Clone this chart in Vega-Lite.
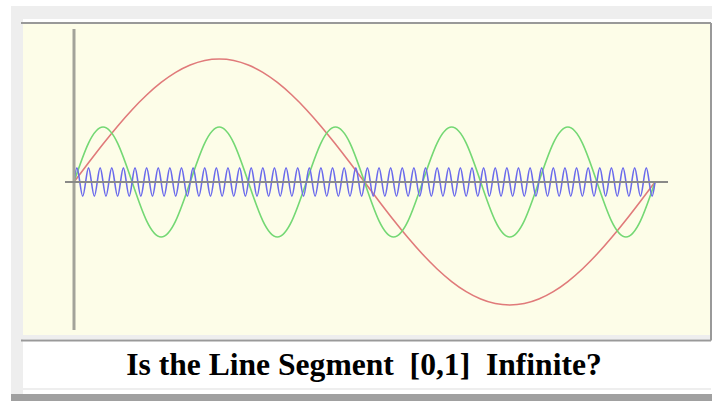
{
  "$schema": "https://vega.github.io/schema/vega-lite/v6.json",
  "width": 688,
  "height": 311,
  "autosize": {"type": "none"},
  "padding": {"left": 23, "top": 24, "right": 1, "bottom": 66},
  "background": "white",
  "view": {"fill": "#fdfde8", "stroke": null},
  "layer": [
    {
      "data": {"values": [{}]},
      "mark": {"type": "rect", "color": "#eeeeee"},
      "encoding": {
        "x": {"datum": -0.10843, "type": "quantitative", "scale": {"domain": [-0.08778, 1.09639], "nice": false, "zero": false}, "axis": null},
        "x2": {"datum": 1.09811},
        "y": {"datum": 1.43089, "type": "quantitative", "scale": {"domain": [-1.2439, 1.28455], "nice": false, "zero": false}, "axis": null},
        "y2": {"datum": 1.3252}
      }
    },
    {
      "data": {"values": [{}]},
      "mark": {"type": "rect", "color": "#eeeeee"},
      "encoding": {
        "x": {"datum": -0.10843, "type": "quantitative", "scale": {"domain": [-0.08778, 1.09639], "nice": false, "zero": false}, "axis": null},
        "x2": {"datum": -0.08778},
        "y": {"datum": 1.43089, "type": "quantitative", "scale": {"domain": [-1.2439, 1.28455], "nice": false, "zero": false}, "axis": null},
        "y2": {"datum": -1.72358}
      }
    },
    {
      "data": {"values": [{}]},
      "mark": {"type": "rect", "color": "#eeeeee"},
      "encoding": {
        "x": {"datum": -0.08778, "type": "quantitative", "scale": {"domain": [-0.08778, 1.09639], "nice": false, "zero": false}, "axis": null},
        "x2": {"datum": 1.09639},
        "y": {"datum": -1.2439, "type": "quantitative", "scale": {"domain": [-1.2439, 1.28455], "nice": false, "zero": false}, "axis": null},
        "y2": {"datum": -1.27642}
      }
    },
    {
      "data": {"values": [{}]},
      "mark": {"type": "rect", "color": "#eeeeee"},
      "encoding": {
        "x": {"datum": -0.08778, "type": "quantitative", "scale": {"domain": [-0.08778, 1.09639], "nice": false, "zero": false}, "axis": null},
        "x2": {"datum": 1.09639},
        "y": {"datum": -1.6748, "type": "quantitative", "scale": {"domain": [-1.2439, 1.28455], "nice": false, "zero": false}, "axis": null},
        "y2": {"datum": -1.69106}
      }
    },
    {
      "data": {"values": [{}]},
      "mark": {"type": "rect", "color": "#a0a0a0"},
      "encoding": {
        "x": {"datum": -0.10843, "type": "quantitative", "scale": {"domain": [-0.08778, 1.09639], "nice": false, "zero": false}, "axis": null},
        "x2": {"datum": 1.09811},
        "y": {"datum": -1.72358, "type": "quantitative", "scale": {"domain": [-1.2439, 1.28455], "nice": false, "zero": false}, "axis": null},
        "y2": {"datum": -1.78049}
      }
    },
    {
      "data": {"values": [{}]},
      "mark": {"type": "rule", "color": "#999999", "strokeWidth": 2},
      "encoding": {
        "x": {"datum": -0.09122, "type": "quantitative", "scale": {"domain": [-0.08778, 1.09639], "nice": false, "zero": false}, "axis": null},
        "x2": {"datum": 1.09639},
        "y": {"datum": 1.29268, "type": "quantitative", "scale": {"domain": [-1.2439, 1.28455], "nice": false, "zero": false}, "axis": null}
      }
    },
    {
      "data": {"values": [{}]},
      "mark": {"type": "rule", "color": "#999999", "strokeWidth": 2},
      "encoding": {
        "x": {"datum": 1.09639, "type": "quantitative", "scale": {"domain": [-0.08778, 1.09639], "nice": false, "zero": false}, "axis": null},
        "y": {"datum": 1.29268, "type": "quantitative", "scale": {"domain": [-1.2439, 1.28455], "nice": false, "zero": false}, "axis": null},
        "y2": {"datum": -1.28862}
      }
    },
    {
      "data": {"values": [{}]},
      "mark": {"type": "rule", "color": "#999999", "strokeWidth": 2},
      "encoding": {
        "x": {"datum": -0.09122, "type": "quantitative", "scale": {"domain": [-0.08778, 1.09639], "nice": false, "zero": false}, "axis": null},
        "x2": {"datum": 1.09639},
        "y": {"datum": -1.28862, "type": "quantitative", "scale": {"domain": [-1.2439, 1.28455], "nice": false, "zero": false}, "axis": null}
      }
    },
    {
      "data": {"values": [{"title": "Is the Line Segment \u00a0[0,1] \u00a0Infinite?"}]},
      "mark": {"type": "text", "font": "Liberation Serif", "fontSize": 31.6, "fontWeight": "bold", "color": "#000000", "align": "center", "baseline": "alphabetic"},
      "encoding": {
        "x": {"datum": 0.4991, "type": "quantitative", "scale": {"domain": [-0.08778, 1.09639], "nice": false, "zero": false}, "axis": null},
        "y": {"datum": -1.56911, "type": "quantitative", "scale": {"domain": [-1.2439, 1.28455], "nice": false, "zero": false}, "axis": null},
        "text": {"field": "title"}
      }
    },
    {
      "data": {"values": [
        {"s":"red","t":0,"y":0},{"s":"red","t":0.025,"y":0.156},{"s":"red","t":0.05,"y":0.309},{"s":"red","t":0.075,"y":0.454},{"s":"red","t":0.1,"y":0.588},{"s":"red","t":0.125,"y":0.707},{"s":"red","t":0.15,"y":0.809},{"s":"red","t":0.175,"y":0.891},{"s":"red","t":0.2,"y":0.951},{"s":"red","t":0.225,"y":0.988},{"s":"red","t":0.25,"y":1},{"s":"red","t":0.275,"y":0.988},{"s":"red","t":0.3,"y":0.951},{"s":"red","t":0.325,"y":0.891},{"s":"red","t":0.35,"y":0.809},{"s":"red","t":0.375,"y":0.707},{"s":"red","t":0.4,"y":0.588},{"s":"red","t":0.425,"y":0.454},{"s":"red","t":0.45,"y":0.309},{"s":"red","t":0.475,"y":0.156},{"s":"red","t":0.5,"y":0},{"s":"red","t":0.525,"y":-0.156},{"s":"red","t":0.55,"y":-0.309},{"s":"red","t":0.575,"y":-0.454},{"s":"red","t":0.6,"y":-0.588},{"s":"red","t":0.625,"y":-0.707},{"s":"red","t":0.65,"y":-0.809},{"s":"red","t":0.675,"y":-0.891},{"s":"red","t":0.7,"y":-0.951},{"s":"red","t":0.725,"y":-0.988},{"s":"red","t":0.75,"y":-1},{"s":"red","t":0.775,"y":-0.988},{"s":"red","t":0.8,"y":-0.951},{"s":"red","t":0.825,"y":-0.891},{"s":"red","t":0.85,"y":-0.809},{"s":"red","t":0.875,"y":-0.707},{"s":"red","t":0.9,"y":-0.588},{"s":"red","t":0.925,"y":-0.454},{"s":"red","t":0.95,"y":-0.309},{"s":"red","t":0.975,"y":-0.156},{"s":"red","t":1,"y":0},
        {"s":"green","t":0,"y":0},{"s":"green","t":0.025,"y":0.316},{"s":"green","t":0.05,"y":0.447},{"s":"green","t":0.075,"y":0.316},{"s":"green","t":0.1,"y":0},{"s":"green","t":0.125,"y":-0.316},{"s":"green","t":0.15,"y":-0.447},{"s":"green","t":0.175,"y":-0.316},{"s":"green","t":0.2,"y":0},{"s":"green","t":0.225,"y":0.316},{"s":"green","t":0.25,"y":0.447},{"s":"green","t":0.275,"y":0.316},{"s":"green","t":0.3,"y":0},{"s":"green","t":0.325,"y":-0.316},{"s":"green","t":0.35,"y":-0.447},{"s":"green","t":0.375,"y":-0.316},{"s":"green","t":0.4,"y":0},{"s":"green","t":0.425,"y":0.316},{"s":"green","t":0.45,"y":0.447},{"s":"green","t":0.475,"y":0.316},{"s":"green","t":0.5,"y":0},{"s":"green","t":0.525,"y":-0.316},{"s":"green","t":0.55,"y":-0.447},{"s":"green","t":0.575,"y":-0.316},{"s":"green","t":0.6,"y":0},{"s":"green","t":0.625,"y":0.316},{"s":"green","t":0.65,"y":0.447},{"s":"green","t":0.675,"y":0.316},{"s":"green","t":0.7,"y":0},{"s":"green","t":0.725,"y":-0.316},{"s":"green","t":0.75,"y":-0.447},{"s":"green","t":0.775,"y":-0.316},{"s":"green","t":0.8,"y":0},{"s":"green","t":0.825,"y":0.316},{"s":"green","t":0.85,"y":0.447},{"s":"green","t":0.875,"y":0.316},{"s":"green","t":0.9,"y":0},{"s":"green","t":0.925,"y":-0.316},{"s":"green","t":0.95,"y":-0.447},{"s":"green","t":0.975,"y":-0.316},{"s":"green","t":1,"y":0},
        {"s":"blue","t":0,"y":0},{"s":"blue","t":0.005,"y":0.115},{"s":"blue","t":0.01,"y":0},{"s":"blue","t":0.015,"y":-0.115},
        {"s":"blue","t":0.02,"y":0},{"s":"blue","t":0.025,"y":0.115},{"s":"blue","t":0.03,"y":0},{"s":"blue","t":0.035,"y":-0.115},
        {"s":"blue","t":0.04,"y":0},{"s":"blue","t":0.045,"y":0.115},{"s":"blue","t":0.05,"y":0},{"s":"blue","t":0.055,"y":-0.115},
        {"s":"blue","t":0.06,"y":0},{"s":"blue","t":0.065,"y":0.115},{"s":"blue","t":0.07,"y":0},{"s":"blue","t":0.075,"y":-0.115},
        {"s":"blue","t":0.08,"y":0},{"s":"blue","t":0.085,"y":0.115},{"s":"blue","t":0.09,"y":0},{"s":"blue","t":0.095,"y":-0.115},
        {"s":"blue","t":0.1,"y":0},{"s":"blue","t":0.105,"y":0.115},{"s":"blue","t":0.11,"y":0},{"s":"blue","t":0.115,"y":-0.115},
        {"s":"blue","t":0.12,"y":0},{"s":"blue","t":0.125,"y":0.115},{"s":"blue","t":0.13,"y":0},{"s":"blue","t":0.135,"y":-0.115},
        {"s":"blue","t":0.14,"y":0},{"s":"blue","t":0.145,"y":0.115},{"s":"blue","t":0.15,"y":0},{"s":"blue","t":0.155,"y":-0.115},
        {"s":"blue","t":0.16,"y":0},{"s":"blue","t":0.165,"y":0.115},{"s":"blue","t":0.17,"y":0},{"s":"blue","t":0.175,"y":-0.115},
        {"s":"blue","t":0.18,"y":0},{"s":"blue","t":0.185,"y":0.115},{"s":"blue","t":0.19,"y":0},{"s":"blue","t":0.195,"y":-0.115},
        {"s":"blue","t":0.2,"y":0},{"s":"blue","t":0.205,"y":0.115},{"s":"blue","t":0.21,"y":0},{"s":"blue","t":0.215,"y":-0.115},
        {"s":"blue","t":0.22,"y":0},{"s":"blue","t":0.225,"y":0.115},{"s":"blue","t":0.23,"y":0},{"s":"blue","t":0.235,"y":-0.115},
        {"s":"blue","t":0.24,"y":0},{"s":"blue","t":0.245,"y":0.115},{"s":"blue","t":0.25,"y":0},{"s":"blue","t":0.255,"y":-0.115},
        {"s":"blue","t":0.26,"y":0},{"s":"blue","t":0.265,"y":0.115},{"s":"blue","t":0.27,"y":0},{"s":"blue","t":0.275,"y":-0.115},
        {"s":"blue","t":0.28,"y":0},{"s":"blue","t":0.285,"y":0.115},{"s":"blue","t":0.29,"y":0},{"s":"blue","t":0.295,"y":-0.115},
        {"s":"blue","t":0.3,"y":0},{"s":"blue","t":0.305,"y":0.115},{"s":"blue","t":0.31,"y":0},{"s":"blue","t":0.315,"y":-0.115},
        {"s":"blue","t":0.32,"y":0},{"s":"blue","t":0.325,"y":0.115},{"s":"blue","t":0.33,"y":0},{"s":"blue","t":0.335,"y":-0.115},
        {"s":"blue","t":0.34,"y":0},{"s":"blue","t":0.345,"y":0.115},{"s":"blue","t":0.35,"y":0},{"s":"blue","t":0.355,"y":-0.115},
        {"s":"blue","t":0.36,"y":0},{"s":"blue","t":0.365,"y":0.115},{"s":"blue","t":0.37,"y":0},{"s":"blue","t":0.375,"y":-0.115},
        {"s":"blue","t":0.38,"y":0},{"s":"blue","t":0.385,"y":0.115},{"s":"blue","t":0.39,"y":0},{"s":"blue","t":0.395,"y":-0.115},
        {"s":"blue","t":0.4,"y":0},{"s":"blue","t":0.405,"y":0.115},{"s":"blue","t":0.41,"y":0},{"s":"blue","t":0.415,"y":-0.115},
        {"s":"blue","t":0.42,"y":0},{"s":"blue","t":0.425,"y":0.115},{"s":"blue","t":0.43,"y":0},{"s":"blue","t":0.435,"y":-0.115},
        {"s":"blue","t":0.44,"y":0},{"s":"blue","t":0.445,"y":0.115},{"s":"blue","t":0.45,"y":0},{"s":"blue","t":0.455,"y":-0.115},
        {"s":"blue","t":0.46,"y":0},{"s":"blue","t":0.465,"y":0.115},{"s":"blue","t":0.47,"y":0},{"s":"blue","t":0.475,"y":-0.115},
        {"s":"blue","t":0.48,"y":0},{"s":"blue","t":0.485,"y":0.115},{"s":"blue","t":0.49,"y":0},{"s":"blue","t":0.495,"y":-0.115},
        {"s":"blue","t":0.5,"y":0},{"s":"blue","t":0.505,"y":0.115},{"s":"blue","t":0.51,"y":0},{"s":"blue","t":0.515,"y":-0.115},
        {"s":"blue","t":0.52,"y":0},{"s":"blue","t":0.525,"y":0.115},{"s":"blue","t":0.53,"y":0},{"s":"blue","t":0.535,"y":-0.115},
        {"s":"blue","t":0.54,"y":0},{"s":"blue","t":0.545,"y":0.115},{"s":"blue","t":0.55,"y":0},{"s":"blue","t":0.555,"y":-0.115},
        {"s":"blue","t":0.56,"y":0},{"s":"blue","t":0.565,"y":0.115},{"s":"blue","t":0.57,"y":0},{"s":"blue","t":0.575,"y":-0.115},
        {"s":"blue","t":0.58,"y":0},{"s":"blue","t":0.585,"y":0.115},{"s":"blue","t":0.59,"y":0},{"s":"blue","t":0.595,"y":-0.115},
        {"s":"blue","t":0.6,"y":0},{"s":"blue","t":0.605,"y":0.115},{"s":"blue","t":0.61,"y":0},{"s":"blue","t":0.615,"y":-0.115},
        {"s":"blue","t":0.62,"y":0},{"s":"blue","t":0.625,"y":0.115},{"s":"blue","t":0.63,"y":0},{"s":"blue","t":0.635,"y":-0.115},
        {"s":"blue","t":0.64,"y":0},{"s":"blue","t":0.645,"y":0.115},{"s":"blue","t":0.65,"y":0},{"s":"blue","t":0.655,"y":-0.115},
        {"s":"blue","t":0.66,"y":0},{"s":"blue","t":0.665,"y":0.115},{"s":"blue","t":0.67,"y":0},{"s":"blue","t":0.675,"y":-0.115},
        {"s":"blue","t":0.68,"y":0},{"s":"blue","t":0.685,"y":0.115},{"s":"blue","t":0.69,"y":0},{"s":"blue","t":0.695,"y":-0.115},
        {"s":"blue","t":0.7,"y":0},{"s":"blue","t":0.705,"y":0.115},{"s":"blue","t":0.71,"y":0},{"s":"blue","t":0.715,"y":-0.115},
        {"s":"blue","t":0.72,"y":0},{"s":"blue","t":0.725,"y":0.115},{"s":"blue","t":0.73,"y":0},{"s":"blue","t":0.735,"y":-0.115},
        {"s":"blue","t":0.74,"y":0},{"s":"blue","t":0.745,"y":0.115},{"s":"blue","t":0.75,"y":0},{"s":"blue","t":0.755,"y":-0.115},
        {"s":"blue","t":0.76,"y":0},{"s":"blue","t":0.765,"y":0.115},{"s":"blue","t":0.77,"y":0},{"s":"blue","t":0.775,"y":-0.115},
        {"s":"blue","t":0.78,"y":0},{"s":"blue","t":0.785,"y":0.115},{"s":"blue","t":0.79,"y":0},{"s":"blue","t":0.795,"y":-0.115},
        {"s":"blue","t":0.8,"y":0},{"s":"blue","t":0.805,"y":0.115},{"s":"blue","t":0.81,"y":0},{"s":"blue","t":0.815,"y":-0.115},
        {"s":"blue","t":0.82,"y":0},{"s":"blue","t":0.825,"y":0.115},{"s":"blue","t":0.83,"y":0},{"s":"blue","t":0.835,"y":-0.115},
        {"s":"blue","t":0.84,"y":0},{"s":"blue","t":0.845,"y":0.115},{"s":"blue","t":0.85,"y":0},{"s":"blue","t":0.855,"y":-0.115},
        {"s":"blue","t":0.86,"y":0},{"s":"blue","t":0.865,"y":0.115},{"s":"blue","t":0.87,"y":0},{"s":"blue","t":0.875,"y":-0.115},
        {"s":"blue","t":0.88,"y":0},{"s":"blue","t":0.885,"y":0.115},{"s":"blue","t":0.89,"y":0},{"s":"blue","t":0.895,"y":-0.115},
        {"s":"blue","t":0.9,"y":0},{"s":"blue","t":0.905,"y":0.115},{"s":"blue","t":0.91,"y":0},{"s":"blue","t":0.915,"y":-0.115},
        {"s":"blue","t":0.92,"y":0},{"s":"blue","t":0.925,"y":0.115},{"s":"blue","t":0.93,"y":0},{"s":"blue","t":0.935,"y":-0.115},
        {"s":"blue","t":0.94,"y":0},{"s":"blue","t":0.945,"y":0.115},{"s":"blue","t":0.95,"y":0},{"s":"blue","t":0.955,"y":-0.115},
        {"s":"blue","t":0.96,"y":0},{"s":"blue","t":0.965,"y":0.115},{"s":"blue","t":0.97,"y":0},{"s":"blue","t":0.975,"y":-0.115},
        {"s":"blue","t":0.98,"y":0},{"s":"blue","t":0.985,"y":0.115},{"s":"blue","t":0.99,"y":0},{"s":"blue","t":0.995,"y":-0.115},
        {"s":"blue","t":1,"y":0}
      ]},
      "mark": {"type": "line", "interpolate": "natural"},
      "encoding": {
        "x": {"field": "t", "type": "quantitative", "scale": {"domain": [-0.08778, 1.09639], "nice": false, "zero": false}, "axis": null},
        "y": {"field": "y", "type": "quantitative", "scale": {"domain": [-1.2439, 1.28455], "nice": false, "zero": false}, "axis": null},
        "color": {"field": "s", "type": "nominal", "scale": {"domain": ["red", "green", "blue"], "range": ["#e07a7a", "#74d874", "#6a6aec"]}, "legend": null},
        "strokeWidth": {"field": "s", "type": "nominal", "scale": {"domain": ["red", "green", "blue"], "range": [1.6, 1.6, 2.4]}, "legend": null},
        "order": {"field": "t", "type": "quantitative"}
      }
    },
    {
      "data": {"values": [{}]},
      "mark": {"type": "rule", "color": "#a3a39a", "strokeWidth": 3},
      "encoding": {
        "x": {"datum": 0, "type": "quantitative", "scale": {"domain": [-0.08778, 1.09639], "nice": false, "zero": false}, "axis": null},
        "y": {"datum": 1.2439, "type": "quantitative", "scale": {"domain": [-1.2439, 1.28455], "nice": false, "zero": false}, "axis": null},
        "y2": {"datum": -1.2033}
      }
    },
    {
      "data": {"values": [{}]},
      "mark": {"type": "rule", "color": "#8a8a88", "strokeWidth": 2},
      "encoding": {
        "x": {"datum": -0.0155, "type": "quantitative", "scale": {"domain": [-0.08778, 1.09639], "nice": false, "zero": false}, "axis": null},
        "x2": {"datum": 1.0224},
        "y": {"datum": 0, "type": "quantitative", "scale": {"domain": [-1.2439, 1.28455], "nice": false, "zero": false}, "axis": null}
      }
    }
  ]
}
